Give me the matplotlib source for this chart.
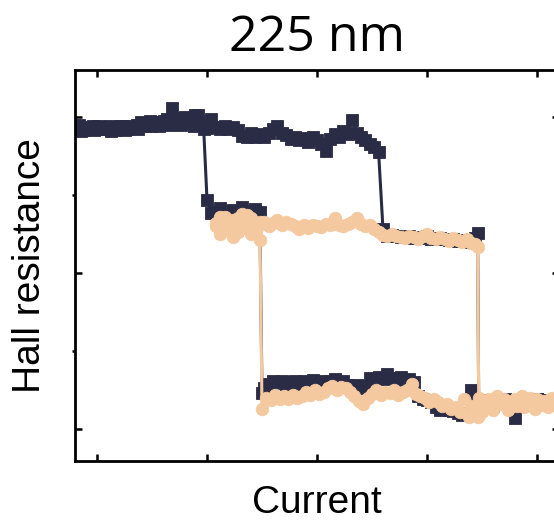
import matplotlib
matplotlib.use("Agg")
import matplotlib.pyplot as plt
from matplotlib.ticker import MultipleLocator, NullFormatter

# ---- sweep data (current in arb. units, Hall resistance in arb. units) ----
# dark loop: full loop, sweep up
dark_up_x = [-2.20, -2.16, -2.12, -2.08, -2.04, -2.00, -1.96, -1.92, -1.88, -1.84,
             -1.80, -1.76, -1.72, -1.68, -1.64, -1.60, -1.56, -1.52, -1.48, -1.44,
             -1.40, -1.36, -1.32, -1.28, -1.24, -1.20, -1.16, -1.12, -1.08, -1.04,
             -1.00, -0.96, -0.92, -0.88, -0.84, -0.80, -0.76, -0.72, -0.68, -0.64,
             -0.60, -0.56, -0.52, -0.48, -0.44, -0.40, -0.36, -0.32, -0.28, -0.24,
             -0.20, -0.16, -0.12, -0.08, -0.04, 0.00, 0.04, 0.08, 0.12, 0.16,
             0.20, 0.24, 0.28, 0.32, 0.36, 0.40, 0.44, 0.48, 0.52, 0.56,
             0.60, 0.64, 0.68, 0.72, 0.76, 0.80, 0.84, 0.88, 0.92, 0.96,
             1.00, 1.04, 1.08, 1.12, 1.16, 1.20, 1.24, 1.28, 1.32, 1.36,
             1.40, 1.44, 1.46, 1.47, 1.51, 1.55, 1.59, 1.63, 1.67, 1.71,
             1.75, 1.80, 1.84, 1.88, 1.92, 1.96, 2.00, 2.04, 2.08, 2.12,
             2.16, 2.20]
dark_up_y = [1.85, 1.90, 1.83, 1.86, 1.88, 1.84, 1.87, 1.85, 1.89, 1.83,
             1.86, 1.88, 1.84, 1.87, 1.90, 1.93, 1.89, 1.95, 1.91, 1.88,
             1.93, 1.97, 2.12, 1.95, 1.90, 2.00, 1.94, 1.88, 2.03, 1.92,
             1.86, 1.98, 1.87, 1.84, 1.89, 1.85, 1.87, 1.83, 1.76, 1.74,
             1.79, 1.75, 1.78, 1.74, 1.80, 1.84, 1.88, 1.80, 1.77, 1.72,
             1.74, 1.70, 1.73, 1.68, 1.75, 1.71, 1.66, 1.57, 1.72, 1.78,
             1.75, 1.82, 1.78, 1.96, 1.80, 1.74, 1.70, 1.66, 1.62, 1.55,
             0.56, 0.48, 0.49, 0.47, 0.46, 0.46, 0.47, 0.45, 0.45, 0.46,
             0.47, 0.44, 0.44, 0.45, 0.43, 0.42, 0.43, 0.41, 0.41, 0.42,
             0.40, 0.45, 0.51, -1.64, -1.66, -1.63, -1.67, -1.64, -1.66, -1.62,
             -1.65, -1.86, -1.64, -1.66, -1.63, -1.65, -1.62, -1.66, -1.64, -1.63,
             -1.65, -1.64]

# dark loop: sweep down
dark_dn_x = [2.20, 2.16, 2.12, 2.08, 2.04, 2.00, 1.96, 1.92, 1.88, 1.84,
             1.80, 1.76, 1.72, 1.68, 1.64, 1.60, 1.56, 1.52, 1.48, 1.44,
             1.40, 1.36, 1.32, 1.28, 1.24, 1.20, 1.16, 1.12, 1.08, 1.04,
             1.00, 0.96, 0.92, 0.88, 0.84, 0.80, 0.76, 0.72, 0.68, 0.64,
             0.60, 0.56, 0.52, 0.48, 0.44, 0.40, 0.36, 0.32, 0.28, 0.24,
             0.20, 0.16, 0.12, 0.08, 0.04, 0.00, -0.04, -0.08, -0.12, -0.16,
             -0.20, -0.24, -0.28, -0.32, -0.36, -0.40, -0.44, -0.48, -0.50,
             -0.52, -0.56, -0.60, -0.64, -0.68, -0.72, -0.76, -0.80, -0.84, -0.88,
             -0.92, -0.96, -1.00, -1.03, -1.07, -1.11, -1.15, -1.19, -1.23, -1.27,
             -1.31, -1.35, -1.39, -1.43, -1.47, -1.51, -1.55, -1.59, -1.63, -1.67,
             -1.71, -1.75, -1.79, -1.83, -1.87, -1.91, -1.95, -1.99, -2.03, -2.07,
             -2.11, -2.15, -2.19]
dark_dn_y = [-1.64, -1.62, -1.66, -1.63, -1.65, -1.61, -1.64, -1.66, -1.62, -1.65,
             -1.63, -1.66, -1.64, -1.67, -1.65, -1.70, -1.68, -1.72, -1.74, -1.78,
             -1.50, -1.80, -1.82, -1.79, -1.77, -1.76, -1.74, -1.75, -1.72, -1.66,
             -1.63, -1.62, -1.58, -1.40, -1.36, -1.38, -1.33, -1.37, -1.35, -1.30,
             -1.36, -1.33, -1.38, -1.35, -1.45, -1.47, -1.44, -1.48, -1.43, -1.38,
             -1.40, -1.36, -1.39, -1.42, -1.38, -1.40, -1.37, -1.41, -1.39, -1.42,
             -1.38, -1.40, -1.43, -1.39, -1.41, -1.38, -1.42, -1.47, -1.54,
             0.78, 0.82, 0.76, 0.80, 0.84, 0.79, 0.81, 0.77, 0.80, 0.83,
             0.78, 0.77, 0.94, 1.84, 1.93, 2.02, 1.95, 1.92, 1.97, 1.93,
             1.99, 1.90, 1.95, 1.91, 1.93, 1.89, 1.92, 1.88, 1.85, 1.89,
             1.86, 1.83, 1.88, 1.85, 1.82, 1.87, 1.84, 1.88, 1.83, 1.87,
             1.85, 1.82, 1.86]

# light loop: minor loop, sweep up
light_up_x = [-0.92, -0.88, -0.84, -0.80, -0.76, -0.72, -0.68, -0.64, -0.60, -0.56,
              -0.52, -0.48, -0.44, -0.40, -0.36, -0.32, -0.28, -0.24, -0.20, -0.16,
              -0.12, -0.08, -0.04, 0.00, 0.04, 0.08, 0.12, 0.16, 0.20, 0.24,
              0.28, 0.32, 0.36, 0.40, 0.44, 0.48, 0.52, 0.56, 0.60, 0.64,
              0.68, 0.72, 0.76, 0.80, 0.84, 0.88, 0.92, 0.96, 1.00, 1.04,
              1.08, 1.12, 1.16, 1.20, 1.24, 1.28, 1.32, 1.36, 1.40, 1.44,
              1.46, 1.47, 1.52, 1.56, 1.60, 1.64, 1.68, 1.72, 1.76, 1.80,
              1.84, 1.88, 1.92, 1.96, 2.00, 2.04, 2.08, 2.12, 2.16, 2.20]
light_up_y = [0.60, 0.72, 0.55, 0.66, 0.46, 0.70, 0.58, 0.74, 0.50, 0.64,
              0.42, 0.66, 0.60, 0.64, 0.68, 0.62, 0.66, 0.63, 0.60, 0.57,
              0.61, 0.58, 0.62, 0.60, 0.59, 0.63, 0.61, 0.70, 0.62, 0.60,
              0.63, 0.66, 0.71, 0.63, 0.60, 0.62, 0.56, 0.53, 0.49, 0.47,
              0.50, 0.48, 0.46, 0.45, 0.48, 0.46, 0.44, 0.47, 0.50, 0.45,
              0.43, 0.46, 0.44, 0.41, 0.45, 0.42, 0.40, 0.43, 0.39, 0.37,
              0.33, -1.60, -1.70, -1.62, -1.75, -1.58, -1.68, -1.64, -1.70, -1.62,
              -1.66, -1.72, -1.64, -1.67, -1.62, -1.69, -1.65, -1.61, -1.67, -1.63]

# light loop: minor loop, sweep down
light_dn_x = [2.18, 2.14, 2.10, 2.06, 2.02, 1.98, 1.94, 1.90, 1.86, 1.82,
              1.78, 1.74, 1.70, 1.66, 1.62, 1.58, 1.54, 1.50, 1.46, 1.42,
              1.38, 1.34, 1.30, 1.26, 1.22, 1.18, 1.14, 1.10, 1.06, 1.02,
              0.98, 0.94, 0.90, 0.86, 0.82, 0.78, 0.74, 0.70, 0.66, 0.62,
              0.58, 0.54, 0.50, 0.46, 0.42, 0.38, 0.34, 0.30, 0.26, 0.22,
              0.18, 0.14, 0.10, 0.06, 0.02, -0.02, -0.06, -0.10, -0.14, -0.18,
              -0.22, -0.26, -0.30, -0.34, -0.38, -0.42, -0.46, -0.50,
              -0.52, -0.56, -0.60, -0.64, -0.68, -0.72, -0.76, -0.80, -0.84, -0.88,
              -0.92]
light_dn_y = [-1.66, -1.60, -1.72, -1.64, -1.67, -1.74, -1.60, -1.66, -1.58, -1.70,
              -1.64, -1.75, -1.62, -1.67, -1.60, -1.72, -1.64, -1.78, -1.84, -1.70,
              -1.85, -1.62, -1.78, -1.72, -1.74, -1.68, -1.70, -1.66, -1.62, -1.65,
              -1.60, -1.58, -1.55, -1.42, -1.50, -1.53, -1.56, -1.50, -1.54, -1.52,
              -1.57, -1.50, -1.55, -1.60, -1.68, -1.64, -1.58, -1.52, -1.48, -1.46,
              -1.50, -1.45, -1.48, -1.52, -1.55, -1.50, -1.56, -1.53, -1.58, -1.60,
              -1.57, -1.62, -1.58, -1.61, -1.57, -1.63, -1.60, -1.74,
              0.66, 0.56, 0.70, 0.60, 0.76, 0.52, 0.68, 0.57, 0.72, 0.50,
              0.64]

title_text = "225 nm"
x_label = "Current"
y_label = "Hall resistance"

dark = "#2a2b44"
light = "#f5c9a0"

fig = plt.figure(figsize=(5.54, 5.21), dpi=100)
ax = fig.add_axes([0.1354, 0.1152, 0.8736, 0.7505])

line_kw = dict(lw=2.2, solid_joinstyle="round")
for xs, ys in ((dark_up_x, dark_up_y), (dark_dn_x, dark_dn_y)):
    ax.plot(xs, ys, color=dark, marker="s", ms=8.0, mec=dark, mew=0.6,
            zorder=2, **line_kw)
for xs, ys in ((light_up_x, light_up_y), (light_dn_x, light_dn_y)):
    ax.plot(xs, ys, color=light, marker="o", ms=9.0, mec=light, mew=0.6,
            zorder=3, **line_kw)

ax.set_xlim(-2.2, 2.2)
ax.set_ylim(-2.41, 2.603)

ax.xaxis.set_major_locator(MultipleLocator(1))
ax.yaxis.set_major_locator(MultipleLocator(2))
ax.yaxis.set_minor_locator(MultipleLocator(1))
ax.xaxis.set_major_formatter(NullFormatter())
ax.yaxis.set_major_formatter(NullFormatter())
ax.tick_params(which="major", direction="in", length=5, width=1.8,
               top=True, right=True, bottom=True, left=True)
ax.tick_params(axis="y", which="minor", direction="out", length=2, width=1.8,
               left=True, right=True)
ax.tick_params(axis="x", which="minor", bottom=False, top=False)

for sp in ax.spines.values():
    sp.set_linewidth(2.0)

ax.set_title(title_text, fontsize=36, family="Open Sans", pad=14)
ax.set_xlabel(x_label, fontsize=28, family="Liberation Sans", labelpad=14)
ax.set_ylabel(y_label, fontsize=28, family="Liberation Sans", labelpad=14)

fig.savefig("out.png", dpi=100)
